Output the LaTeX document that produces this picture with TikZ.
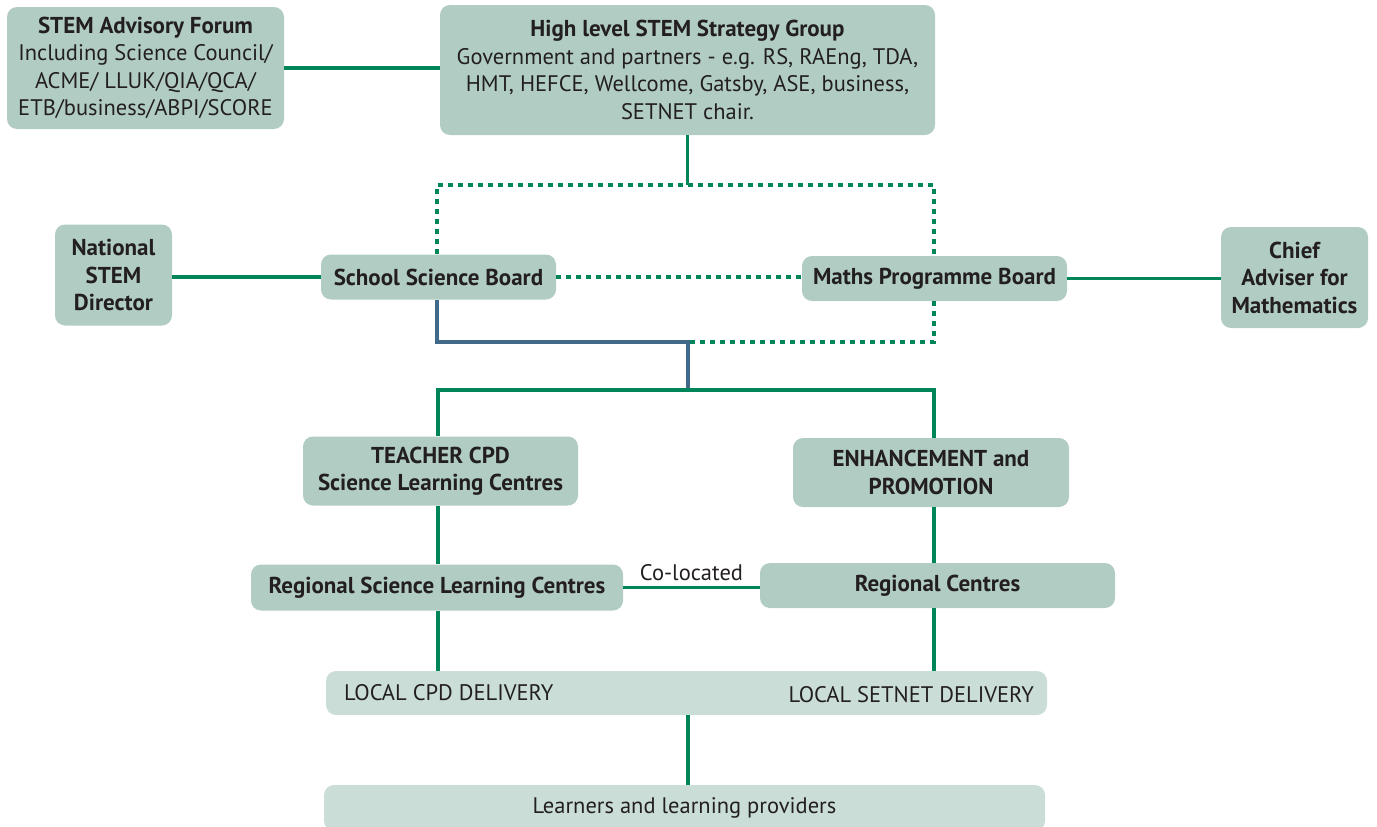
\documentclass[tikz,border=0pt]{standalone}
\usepackage{fontspec}
\setmainfont{PT Sans}
\definecolor{boxfill}{HTML}{B1CDC3}
\definecolor{lightfill}{HTML}{CADED7}
\definecolor{lgreen}{HTML}{00855A}
\definecolor{lblue}{HTML}{41698A}
\definecolor{txt}{HTML}{231F20}
\begin{document}
\begin{tikzpicture}[x=1pt,y=-1pt,
  box/.style={fill=boxfill,rounded corners=10pt,inner sep=0pt,align=center,text=txt,font=\fontsize{22.5}{27.5}\selectfont},
  bbox/.style={box,font=\bfseries\fontsize{23}{27.5}\selectfont},
  lbox/.style={fill=lightfill,rounded corners=10pt,inner sep=0pt,align=center,text=txt,font=\fontsize{22.5}{27.5}\selectfont},
  gline/.style={draw=lgreen,line width=3.5pt},
  dline/.style={draw=lgreen,line width=3.5pt,dash pattern=on 5pt off 5pt},
  bline/.style={draw=lblue,line width=3.5pt},
  lab/.style={text=txt,inner sep=0pt,font=\fontsize{22.5}{24}\selectfont}]
\useasboundingbox (0,0) rectangle (1377,827);
% boxes
\node[box,minimum width=277pt,minimum height=122pt] (forum) at (145.5,68)
  {{\bfseries\fontsize{23}{27.5}\selectfont STEM Advisory Forum}\\Including Science Council/\\ACME/ LLUK/QIA/QCA/\\ETB/business/ABPI/SCORE};
\node[box,minimum width=495pt,minimum height=130pt] (strat) at (687.5,70)
  {{\bfseries\fontsize{23}{27.5}\selectfont High level STEM Strategy Group}\\Government and partners - e.g. RS, RAEng, TDA,\\HMT, HEFCE, Wellcome, Gatsby, ASE, business,\\SETNET chair.};
\node[bbox,minimum width=117pt,minimum height=101pt] (nsd) at (113.5,275)
  {National\\STEM\\Director};
\node[bbox,minimum width=235pt,minimum height=45pt] (ssb) at (438.5,277)
  {School Science Board};
\node[bbox,minimum width=265pt,minimum height=45pt] (mpb) at (934.5,278.5)
  {Maths Programme Board};
\node[bbox,minimum width=147pt,minimum height=101pt] (chief) at (1294.5,277.5)
  {Chief\\Adviser for\\Mathematics};
\node[bbox,minimum width=275pt,minimum height=69pt] (cpd) at (440.5,471)
  {TEACHER CPD\\Science Learning Centres};
\node[bbox,minimum width=276pt,minimum height=69pt] (enh) at (931,472.5)
  {ENHANCEMENT and\\PROMOTION};
\node[bbox,minimum width=372pt,minimum height=46pt] (rslc) at (437,587.5)
  {Regional Science Learning Centres};
\node[bbox,minimum width=355pt,minimum height=45pt] (rc) at (937.5,585.5)
  {Regional Centres};
\node[lbox,minimum width=721pt,minimum height=44pt] (local) at (686.5,693) {};
\node[lab,anchor=west] (lcpd) at (344,693) {LOCAL CPD DELIVERY};
\node[lab,anchor=east] (lset) at (1034,695) {LOCAL SETNET DELIVERY};
\node[lbox,minimum width=721pt,minimum height=46pt] (learn) at (684.5,808)
  {Learners and learning providers};
% coordinates
\coordinate (dl) at (437,185);
\coordinate (dr) at (934,185);
\coordinate (bj) at (688,342);
\coordinate (gj) at (688,390);
\coordinate (gl) at (438,390);
\coordinate (gr) at (934,390);
\coordinate (lm) at (688,700);
% connectors
\draw[gline] (forum.east) -- (forum.east -| strat.west);
\draw[gline] (strat.south) -- (strat.south |- dl);
\draw[dline] (dl |- ssb.north) -- (dl) -- (dr) -- (dr |- mpb.north);
\draw[dline] (ssb.east) -- (ssb.east -| mpb.west);
\draw[dline] (dr |- mpb.south) -- (dr |- bj) -- (bj);
\draw[bline] (dl |- ssb.south) -- (dl |- bj) -- (bj) -- (gj);
\draw[gline] (ssb.west -| nsd.east) -- (ssb.west);
\draw[gline] (mpb.east) -- (mpb.east -| chief.west);
\draw[gline] (gl |- cpd.north) -- (gl) -- (gr) -- (gr |- enh.north);
\draw[gline] (gl |- cpd.south) -- (gl |- rslc.north);
\draw[gline] (gr |- enh.south) -- (gr |- rc.north);
\draw[gline] (gl |- rslc.south) -- (gl |- local.north);
\draw[gline] (gr |- rc.south) -- (gr |- local.north);
\draw[gline] (rslc.east) -- node[lab,above=5pt] (coloc) {Co-located} (rslc.east -| rc.west);
\draw[gline] (lm |- local.south) -- (lm |- learn.north);
\end{tikzpicture}
\end{document}
